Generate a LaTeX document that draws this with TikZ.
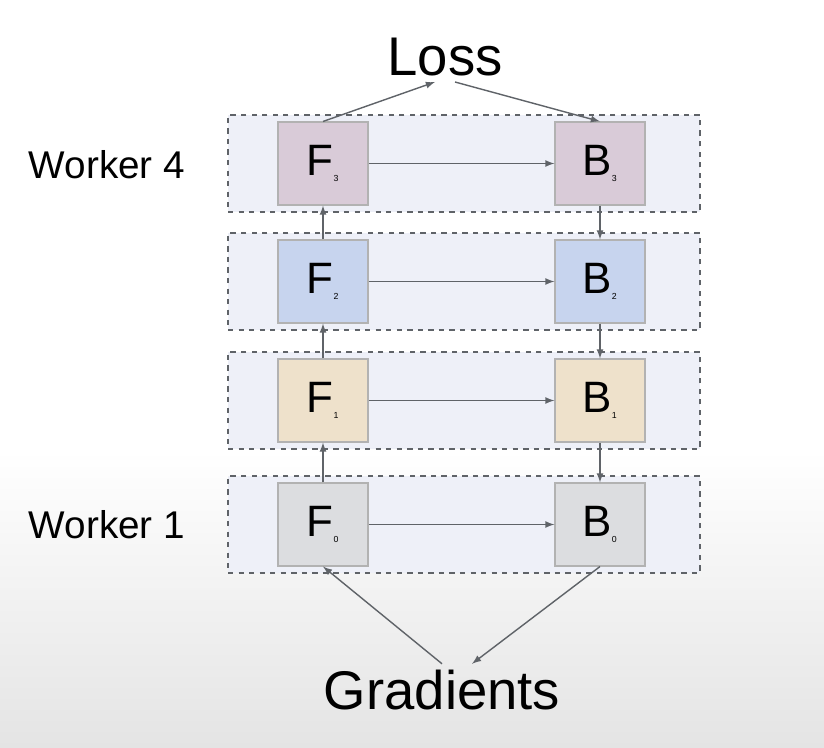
\documentclass[tikz,border=0pt]{standalone}
\usepackage{fontspec}
\setmainfont{Liberation Sans}
\usetikzlibrary{positioning}
\definecolor{rowbg}{HTML}{EEF0F8}
\definecolor{fthree}{HTML}{D9CBD8}
\definecolor{ftwo}{HTML}{C7D4EE}
\definecolor{fone}{HTML}{EEE1CB}
\definecolor{fzero}{HTML}{DCDDE0}
\definecolor{bggray}{HTML}{E4E4E4}
\definecolor{edgegray}{HTML}{5F6368}
\tikzset{
  row/.style={draw=edgegray,dashed,fill=rowbg,minimum width=9.44cm,minimum height=1.94cm,line width=0.6pt},
  stage/.style={draw=gray!60,minimum width=1.8cm,minimum height=1.66cm,font=\fontsize{25}{28}\selectfont,line width=0.6pt},
  flow/.style={-latex,draw=edgegray,line width=0.8pt},
  label/.style={font=\fontsize{22}{26}\selectfont}
}
\begin{document}
\begin{tikzpicture}
\useasboundingbox (0,0) rectangle (16.48,-14.96);
\shade[top color=white,bottom color=bggray] (0,-9) rectangle (16.48,-14.96);
\fill[white] (0,0) rectangle (16.48,-9);
\node[row] (r3) at (9.28,-3.27) {};
\node[row] (r2) at (9.28,-5.63) {};
\node[row] (r1) at (9.28,-8.01) {};
\node[row] (r0) at (9.28,-10.49) {};
\node[stage,fill=fthree] (f3) at (6.46,-3.27) {F\textsubscript{\tiny 3}};
\node[stage,fill=ftwo] (f2) at (6.46,-5.63) {F\textsubscript{\tiny 2}};
\node[stage,fill=fone] (f1) at (6.46,-8.01) {F\textsubscript{\tiny 1}};
\node[stage,fill=fzero] (f0) at (6.46,-10.49) {F\textsubscript{\tiny 0}};
\node[stage,fill=fthree] (b3) at (12.0,-3.27) {B\textsubscript{\tiny 3}};
\node[stage,fill=ftwo] (b2) at (12.0,-5.63) {B\textsubscript{\tiny 2}};
\node[stage,fill=fone] (b1) at (12.0,-8.01) {B\textsubscript{\tiny 1}};
\node[stage,fill=fzero] (b0) at (12.0,-10.49) {B\textsubscript{\tiny 0}};
\node[font=\fontsize{31}{34}\selectfont] (loss) at (8.9,-1.14) {Loss};
\node[font=\fontsize{31}{34}\selectfont] (grad) at (8.84,-13.8) {Gradients};
\node[label] (w4) at (2.14,-3.3) {Worker 4};
\node[label] (w1) at (2.14,-10.5) {Worker 1};
\foreach \a/\b in {f0/f1,f1/f2,f2/f3,b3/b2,b2/b1,b1/b0,f3/b3,f2/b2,f1/b1,f0/b0}
  \draw[flow] (\a) -- (\b);
\coordinate (lossin) at (8.7,-1.64);
\coordinate (lossout) at (9.1,-1.64);
\draw[flow] (f3.north) ++(0,0) -- (lossin);
\draw[flow] (lossout) -- (b3.north);
\draw[flow] (grad.north) -- (f0.south);
\draw[flow] (b0.south) -- ([xshift=0.6cm]grad.north);
\end{tikzpicture}
\end{document}
